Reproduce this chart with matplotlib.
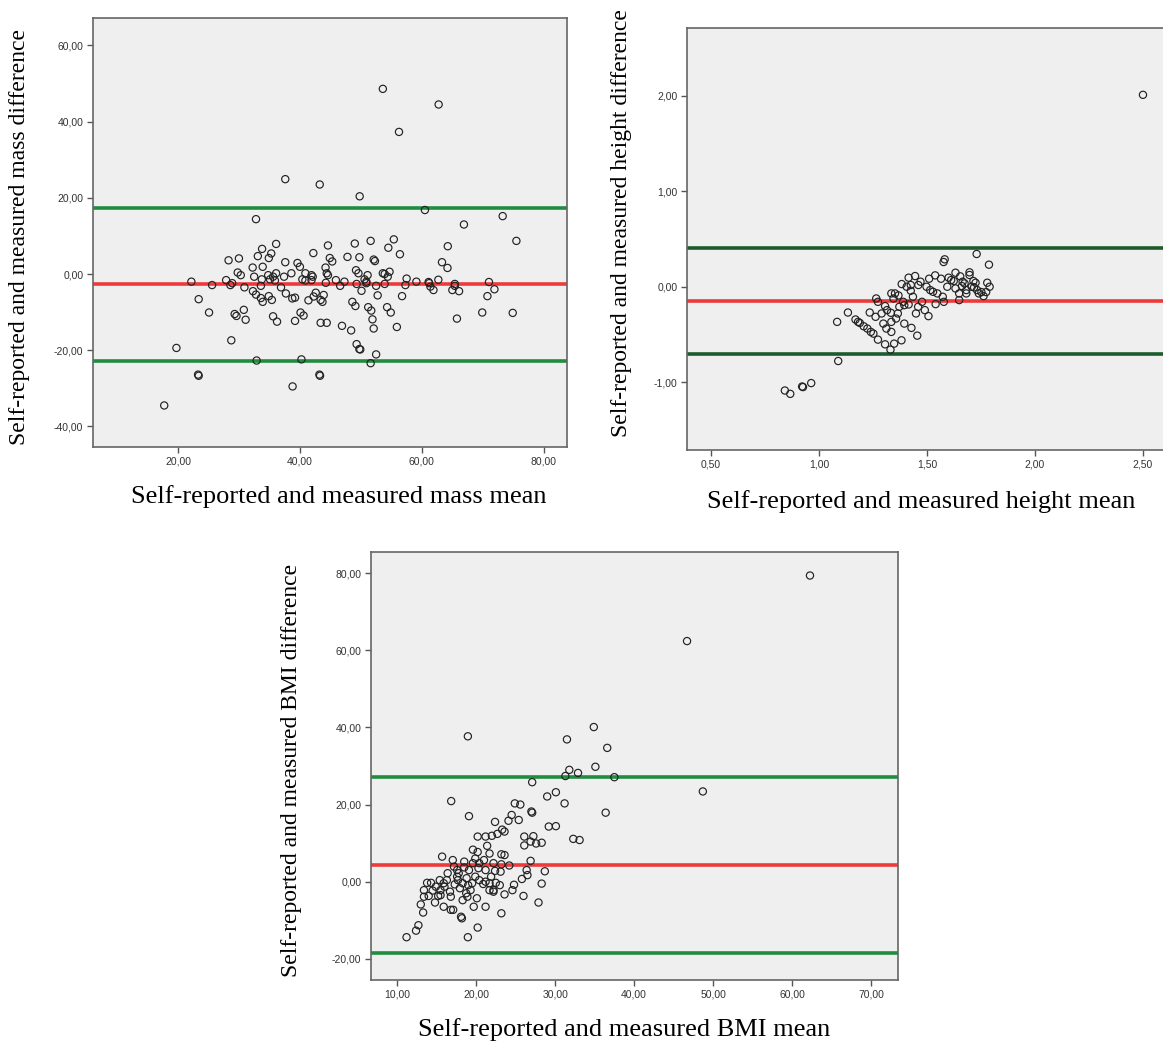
import numpy as np
import matplotlib
matplotlib.use("Agg")
import matplotlib.pyplot as plt
from matplotlib.ticker import FuncFormatter

# ---- mass: mean vs difference ----
mass_mean = [53.6, 62.75, 56.25, 37.6, 43.25, 49.8, 60.5, 73.25, 32.8, 66.9, 75.5, 55.4, 51.6, 49.0,
             36.1, 44.6, 64.25, 54.5, 33.8, 56.4, 42.2, 35.3, 33.1, 47.8, 49.75, 30.0, 44.9, 28.3,
             37.6, 39.6, 52.1, 52.3, 63.3, 45.3, 34.9, 32.25, 33.9, 40.0, 44.2, 64.2, 29.8, 30.3,
             32.5, 34.8, 36.1, 37.4, 38.6, 40.9, 41.9, 44.4, 49.2, 49.6, 51.1, 53.6, 54.7, 54.4,
             57.5, 59.1, 61.2, 62.7, 71.0, 22.2, 25.6, 27.9, 28.6, 28.9, 30.9, 33.6, 36.9, 40.4,
             40.9, 41.9, 44.25, 45.9, 46.6, 47.3, 49.3, 50.9, 52.5, 53.9, 57.3, 61.4, 61.9, 65.0,
             66.1, 65.4, 71.9, 50.1, 52.75, 56.75, 32.3, 32.8, 33.6, 33.9, 34.9, 35.4, 37.7, 38.75,
             39.2, 41.4, 42.25, 42.6, 43.7, 43.9, 43.4, 48.6, 49.1, 51.2, 51.7, 54.3, 54.9, 70.75,
             23.4, 25.1, 29.3, 29.6, 30.8, 31.1, 35.6, 36.25, 40.1, 40.6, 39.2, 43.4, 44.4, 46.9,
             48.4, 51.9, 52.1, 55.9, 65.75, 69.9, 74.9, 28.75, 19.75, 49.3, 49.75, 49.9, 52.5,
             32.9, 40.25, 51.6, 23.3, 23.4, 43.2, 43.3, 38.8, 17.75, 35.6, 35.9, 35.1, 42.1, 50.6,
             50.9, 61.1, 65.4, 33.75, 53.9, 44.6]
mass_diff = [48.6, 44.5, 37.3, 24.9, 23.5, 20.4, 16.8, 15.2, 14.4, 13.0, 8.7, 9.1, 8.7, 8.0,
             7.9, 7.5, 7.3, 6.9, 6.6, 5.2, 5.5, 5.4, 4.7, 4.5, 4.4, 4.1, 4.2, 3.6,
             3.1, 2.9, 3.8, 3.4, 3.1, 3.3, 4.2, 1.7, 1.9, 1.9, 1.7, 1.6, 0.4, -0.3,
             -0.7, -0.3, 0.2, -0.7, 0.2, 0.2, -0.3, 0.2, 1.0, 0.2, -0.3, 0.2, 0.6, -0.7,
             -1.2, -2.0, -2.4, -1.5, -2.1, -2.0, -2.9, -1.6, -2.9, -2.4, -3.5, -3.1, -3.5, -1.4,
             -1.7, -1.6, -2.3, -1.6, -3.1, -2.0, -2.6, -2.4, -3.1, -2.6, -2.9, -3.3, -4.2, -4.2,
             -4.5, -2.6, -4.0, -4.4, -5.6, -5.8, -4.5, -5.4, -6.3, -7.3, -5.8, -6.8, -5.1, -6.4,
             -6.2, -6.9, -5.9, -4.9, -7.3, -5.5, -6.8, -7.3, -8.4, -8.7, -9.6, -8.7, -10.1, -5.8,
             -6.6, -10.1, -10.5, -11.0, -9.4, -12.0, -11.1, -12.5, -10.1, -10.9, -12.3, -12.8, -12.8, -13.6,
             -14.8, -11.9, -14.3, -13.9, -11.7, -10.1, -10.2, -17.4, -19.4, -18.4, -19.7, -19.8, -21.1,
             -22.7, -22.4, -23.4, -26.4, -26.7, -26.4, -26.7, -29.5, -34.5, -0.7, -1.7, -1.4, -0.7, -1.4,
             -2.0, -2.1, -3.1, -1.4, 0.0, -0.3]
mass_bias = -2.7
mass_loa = [17.3, -22.7]

# ---- height: mean vs difference ----
height_mean = [2.50, 1.730, 1.787, 1.577, 1.582, 1.697, 1.697, 1.632, 1.445, 1.415, 1.538, 1.565, 1.600,
               1.612, 1.624, 1.654, 1.665, 1.715, 1.725, 1.779, 1.790, 1.774, 1.740, 1.762, 1.682, 1.649,
               1.649, 1.707, 1.510, 1.498, 1.470, 1.460, 1.477, 1.490, 1.507, 1.449, 1.455, 1.428, 1.406,
               1.383, 1.368, 1.352, 1.335, 1.345, 1.390, 1.395, 1.372, 1.365, 1.357, 1.395, 1.382, 1.335,
               1.335, 1.333, 1.306, 1.315, 1.298, 1.312, 1.306, 1.331, 1.348, 1.265, 1.273, 1.290, 1.262,
               1.235, 1.240, 1.273, 1.252, 1.224, 1.207, 1.189, 1.169, 1.181, 1.134, 1.084, 1.089, 0.964,
               0.922, 0.926, 0.867, 0.842, 1.578, 1.573, 1.548, 1.528, 1.594, 1.732, 1.752, 1.718, 1.682,
               1.662, 1.425, 1.435, 1.415, 1.459, 1.425, 1.632, 1.674, 1.515, 1.540]
height_diff = [2.01, 0.343, 0.231, 0.259, 0.287, 0.151, 0.123, 0.147, 0.112, 0.095, 0.119, 0.084, 0.095,
               0.070, 0.060, 0.109, 0.053, 0.060, 0.042, 0.042, 0.0, -0.056, -0.070, -0.098, -0.035, -0.070,
               -0.140, 0.0, 0.084, 0.0, 0.053, 0.018, -0.158, -0.245, -0.308, -0.280, -0.512, -0.431, 0.0,
               0.028, -0.091, -0.070, -0.070, -0.123, -0.158, -0.193, -0.210, -0.280, -0.333, -0.386, -0.561, -0.368,
               -0.473, -0.273, -0.203, -0.245, -0.386, -0.438, -0.603, -0.659, -0.596, -0.123, -0.158, -0.280, -0.315,
               -0.270, -0.473, -0.554, -0.491, -0.438, -0.414, -0.379, -0.343, -0.368, -0.270, -0.368, -0.778, -1.009,
               -1.045, -1.051, -1.122, -1.087, -0.158, -0.105, -0.070, -0.053, 0.0, -0.035, -0.056, -0.007, -0.070,
               0.007, -0.042, -0.105, -0.186, -0.210, 0.018, -0.018, 0.035, -0.035, -0.182]
height_bias = -0.15
height_loa = [0.41, -0.705]

# ---- BMI: mean vs difference ----
bmi_mean = [62.26, 46.7, 34.9, 18.96, 31.5, 36.6, 35.1, 31.8, 32.9, 31.3, 37.5, 27.1, 48.7, 30.1, 29.0,
            16.85, 24.9, 25.6, 31.2, 36.4, 27.0, 27.1, 19.1, 24.5, 22.4, 25.4, 24.1, 29.2, 30.1, 23.3,
            23.6, 22.7, 20.2, 21.2, 22.0, 26.1, 27.25, 32.3, 33.1, 26.9, 28.3, 27.6, 21.4, 26.1, 19.6,
            20.2, 21.7, 23.2, 23.6, 15.7, 17.05, 26.9, 19.9, 18.5, 21.0, 24.2, 23.2, 18.5, 21.2, 22.4,
            23.1, 26.4, 28.7, 26.5, 16.4, 17.6, 25.8, 28.3, 24.8, 24.6, 23.6, 26.0, 27.9, 22.2, 20.9,
            20.1, 19.7, 21.2, 23.2, 20.2, 18.96, 18.1, 18.2, 16.8, 17.1, 15.9, 14.8, 13.3, 13.0, 13.4,
            13.8, 14.3, 12.7, 12.4, 11.2, 14.0, 15.2, 15.5, 14.9, 15.9, 16.8, 16.7, 17.3, 17.7, 17.8,
            17.95, 18.3, 18.8, 19.0, 18.75, 19.3, 18.3, 18.9, 19.5, 19.9, 20.4, 21.2, 21.7, 21.9, 22.5,
            23.0, 17.6, 17.2, 19.1, 19.6, 20.4, 20.3, 16.3, 16.0, 15.4, 22.2, 21.7, 22.2, 15.5, 14.5, 13.4]
bmi_diff = [79.4, 62.4, 40.1, 37.7, 36.9, 34.7, 29.8, 29.0, 28.2, 27.4, 27.1, 25.8, 23.4, 23.2, 22.1,
            20.9, 20.3, 20.0, 20.3, 17.9, 18.2, 17.9, 17.0, 17.3, 15.5, 16.0, 15.8, 14.3, 14.4, 13.5,
            13.0, 12.4, 11.7, 11.7, 11.9, 11.7, 11.8, 11.1, 10.8, 10.4, 10.1, 9.9, 9.3, 9.4, 8.3,
            7.7, 7.3, 7.1, 6.9, 6.5, 5.6, 5.4, 6.0, 5.2, 5.6, 4.2, 4.5, 3.7, 3.0, 2.8,
            2.6, 3.0, 2.7, 1.7, 2.2, 1.3, 0.7, -0.5, -0.8, -2.2, -3.3, -3.7, -5.4, -2.6, -0.6,
            -4.3, -6.5, -6.5, -8.2, -11.9, -14.4, -9.1, -9.5, -7.3, -7.3, -6.5, -5.4, -8.0, -5.9, -2.2,
            -0.3, -0.3, -11.3, -12.7, -14.4, -3.7, -3.7, -2.2, -1.3, -0.4, -3.9, -2.6, -0.7, 0.4, 2.2,
            -1.7, -0.4, 0.9, -0.9, -3.0, -2.2, -4.8, -3.9, -0.4, 1.3, 0.4, 0.0, -0.4, 1.3, -0.3,
            -0.9, 3.0, 3.9, 3.0, 4.8, 4.8, 3.5, 0.4, -1.3, 0.4, 4.8, -2.2, -2.2, -3.5, -2.3, -3.9]
bmi_bias = 4.3
bmi_loa = [27.1, -18.6]

W, H = 1163, 1045
fig = plt.figure(figsize=(W / 100, H / 100), dpi=100)
fig.patch.set_facecolor("white")

xlab_font = {"family": "Liberation Serif", "size": 19}
ylab_font = {"family": "Liberation Serif", "size": 17}
comma = FuncFormatter(lambda v, p: f"{v:.2f}".replace(".", ","))


def box(l, t, r, b):
    # pixel box -> figure fraction
    return [l / W, 1 - b / H, (r - l) / W, (b - t) / H]


def panel(rect, xs, ys, bias, loa, xlim, ylim, xticks, yticks, green):
    ax = fig.add_axes(rect)
    ax.set_facecolor("#efefef")
    ax.axhline(bias, color="#ee3a3a", lw=2.6, zorder=2)
    for v in loa:
        ax.axhline(v, color=green, lw=2.6, zorder=2)
    ax.scatter(xs, ys, s=27, facecolors="none", edgecolors="#222222", linewidths=0.85, zorder=3)
    ax.set_xlim(*xlim)
    ax.set_ylim(*ylim)
    ax.set_xticks(xticks)
    ax.set_yticks(yticks)
    ax.xaxis.set_major_formatter(comma)
    ax.yaxis.set_major_formatter(comma)
    ax.tick_params(length=4, width=1, color="#555555", labelsize=7.5, labelcolor="#333333", pad=3)
    for tl in ax.get_xticklabels() + ax.get_yticklabels():
        tl.set_family("Liberation Sans")
    for s in ax.spines.values():
        s.set_color("#666666")
        s.set_linewidth(1.2)
    return ax


panel(box(93, 18, 567, 447), mass_mean, mass_diff, mass_bias, mass_loa,
      (6.07, 83.8), (-45.4, 67.2), [20, 40, 60, 80], [-40, -20, 0, 20, 40, 60], "#1f8c3f")

panel(box(687, 28, 1185, 450), height_mean, height_diff, height_bias, height_loa,
      (0.389, 0.389 + 498 / 216), (-1.71, 2.71), [0.5, 1.0, 1.5, 2.0, 2.5], [-1, 0, 1, 2], "#1c5c2c")

panel(box(371, 552, 898, 980), bmi_mean, bmi_diff, bmi_bias, bmi_loa,
      (6.7, 73.4), (-25.5, 85.5), [10, 20, 30, 40, 50, 60, 70], [-20, 0, 20, 40, 60, 80], "#1f8c3f")

fig.text(339 / W, 1 - 497 / H, "Self-reported and measured mass mean", ha="center", va="center", **xlab_font)
fig.text(20 / W, 1 - 237 / H, "Self-reported and measured mass difference", ha="center", va="center",
         rotation=90, **ylab_font)
fig.text(921 / W, 1 - 502 / H, "Self-reported and measured height mean", ha="center", va="center", **xlab_font)
fig.text(621 / W, 1 - 223 / H, "Self-reported and measured height difference", ha="center", va="center",
         rotation=90, **ylab_font)
fig.text(624 / W, 1 - 1030 / H, "Self-reported and measured BMI mean", ha="center", va="center", **xlab_font)
fig.text(292 / W, 1 - 770 / H, "Self-reported and measured BMI difference", ha="center", va="center",
         rotation=90, **ylab_font)

fig.savefig("out.png", dpi=100)
